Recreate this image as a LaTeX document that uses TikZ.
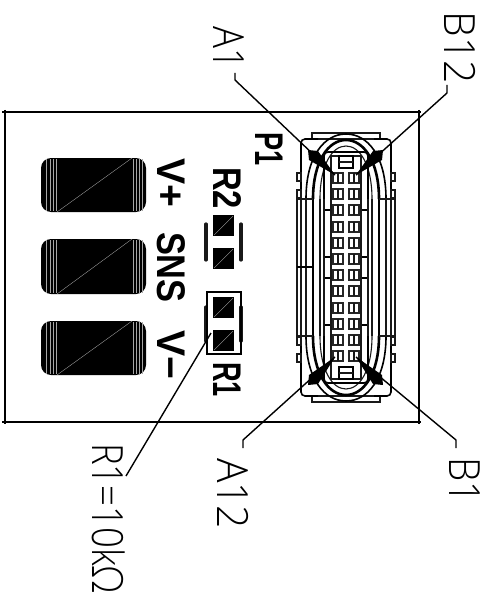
\documentclass[tikz,border=0pt]{standalone}
\usepackage{graphicx}
\usepackage{fontspec}
\setmainfont{Liberation Sans}
\newfontfamily\thinf{Open Sans Light}
\tikzset{
  thinlabel/.style={rotate=-90,anchor=base west,inner sep=0,outer sep=0,font=\thinf\fontsize{43}{43}\selectfont},
  boldlabel/.style={rotate=-90,anchor=base west,inner sep=0,outer sep=0,font=\bfseries\fontsize{40}{40}\selectfont},
  ln/.style={line width=1.1pt,black!90},
  thk/.style={line width=1.6pt,black},
  heavy/.style={line width=2.6pt,black},
  leader/.style={line width=1.4pt,black,line join=round},
  bigpad/.style={fill=black,rounded corners=10pt},
  smallpad/.style={fill=black},
  padmark/.style={line width=0.35pt,gray!70},
  silk/.style={line width=3.2pt,black!90,line cap=round},
  pinbox/.style={line width=2pt,black!85,fill=white}
}
\begin{document}
\begin{tikzpicture}[x=1pt,y=-1pt]
\useasboundingbox (0,0) rectangle (487,599);
% board
\draw[thk] (2,112) -- (421,112);
\draw[thk] (2,422) -- (421,422);
\draw[thk] (5,110) -- (5,424);
\draw[thk] (419,110) -- (419,424);
% big pads
\foreach \n/\t/\b in {a/158/212,b/239/294,c/321/375}{
  \fill[bigpad] (41,\t) rectangle (146,\b);
  \foreach \xx in {46,50,53,56,133,136,139,142}{
    \draw[padmark] (\xx,\t+1) -- (\xx,\b-1);
  }
  \draw[padmark] (57,\b) -- (132,\t);
}
% small pads
\foreach \t/\b in {215/236,248/269,297/318,330/351}{
  \fill[smallpad] (213,\t) rectangle (234,\b);
  \draw[padmark] (214,\b-1) -- (233,\t+1);
}
\draw[silk] (206,224) -- (206,260);
\draw[silk] (241,224) -- (241,260);
\draw[silk] (206,307) -- (206,341);
\draw[silk] (241,307) -- (241,341);
\draw[thk] (207,292) rectangle (241,354);
% connector
\foreach \sy/\mir in {1/0,-1/1}{
 \begin{scope}[yshift={\mir*(-535pt)},yscale=\sy]
  \draw[ln] (312,133) rectangle (380,139);
  \draw[thk,rounded corners=4pt] (301,199) -- (301,139) -- (318,139);
  \draw[thk,rounded corners=4pt] (391,199) -- (391,139) -- (374,139);
  \draw[ln] (297,173) rectangle (301,181);
  \draw[ln] (297,190) rectangle (301,198);
  \draw[ln] (391,173) rectangle (395,181);
  \draw[ln] (391,190) rectangle (395,198);
  \fill[white] (314,139.8) rectangle (378,150);
  \draw[thk] (306,199) .. controls (306,155) and (325,134) .. (346,134) .. controls (367,134) and (386,155) .. (386,199);
  \draw[heavy] (313,199) .. controls (313,162) and (328,140) .. (346,140) .. controls (364,140) and (379,162) .. (379,199);
  \draw[ln] (320,199) .. controls (320,165) and (332,146) .. (346,146) .. controls (360,146) and (372,165) .. (372,199);
  \draw[thk,rounded corners=4pt] (324,199) -- (324,152) -- (368,152) -- (368,199);
  \draw[ln] (331,199) -- (331,156) -- (361,156) -- (361,199);
  \draw[line width=1.8pt] (339,156) rectangle (353,168);
  \draw[ln] (339,162) -- (353,162);
  \draw[thk] (324,210) -- (331,210);
  \draw[thk] (361,210) -- (368,210);
  \draw[thk] (324,257) -- (331,257);
  \draw[thk] (361,257) -- (368,257);
 \end{scope}
}
% long bands
\foreach \xx in {297,301,306,320,324,331,361,368,372,386,391,395}{
  \draw[ln] (\xx,199) -- (\xx,336);
}
\draw[heavy] (313,199) -- (313,336);
\draw[heavy] (379,199) -- (379,336);
\draw[ln] (297,199) -- (313,199);
\draw[ln] (379,199) -- (395,199);
\draw[ln] (297,336) -- (313,336);
\draw[ln] (379,336) -- (395,336);
\draw[thk] (297,267) -- (313,267);
% pins
\foreach \i in {0,...,11}{
  \pgfmathsetmacro{\yy}{173+16.2*\i}
  \draw[pinbox] (333,\yy) rectangle (343,\yy+10);
  \draw[ln] (338,\yy) -- (338,\yy+10);
  \draw[pinbox] (349,\yy) rectangle (359,\yy+10);
  \draw[ln] (354,\yy) -- (354,\yy+10);
}
% leaders
\coordinate (a1end) at (235,73);
\coordinate (a1bend) at (235,80);
\coordinate (a1pin) at (335,175);
\coordinate (b12end) at (447,85);
\coordinate (b12bend) at (447,93);
\coordinate (b12pin) at (356,175);
\coordinate (a12end) at (243,448);
\coordinate (a12bend) at (243,440);
\coordinate (a12pin) at (335,357);
\coordinate (b1end) at (456,448);
\coordinate (b1bend) at (456,440);
\coordinate (b1pin) at (356,357);
\coordinate (r1end) at (126,476);
\coordinate (r1pin) at (211,333);
\draw[leader] (a1end) -- (a1bend) -- (a1pin);
\draw[leader] (b12end) -- (b12bend) -- (b12pin);
\draw[leader] (a12end) -- (a12bend) -- (a12pin);
\draw[leader] (b1end) -- (b1bend) -- (b1pin);
\draw[leader] (r1end) -- (r1pin);
% arrow wedges
\fill (a1pin) -- (318,151) -- (308,150) -- (309,160) -- cycle;
\fill (b12pin) -- (373,151) -- (383,150) -- (382,160) -- cycle;
\fill (a12pin) -- (318,384) -- (308,385) -- (309,375) -- cycle;
\fill (b1pin) -- (373,384) -- (383,385) -- (382,375) -- cycle;
% thin labels
\node[thinlabel] (la1) at (213,27) {\scalebox{0.85}[1]{A1}};
\node[thinlabel] (lb12) at (444,12) {\scalebox{0.95}[1]{B12}};
\node[thinlabel] (la12) at (217,458) {\scalebox{0.95}[1]{A12}};
\node[thinlabel] (lb1) at (449,457) {\scalebox{0.9}[1]{B1}};
\node[thinlabel] (lr1) at (92,443) {\scalebox{0.85}[1]{R1=10k\char"03A9}};
% bold labels
\node[boldlabel] (lp1) at (255,132) {\scalebox{0.68}[1]{P1}};
\node[boldlabel] (lr2) at (213,167) {\scalebox{0.82}[1]{R2}};
\node[boldlabel] (lr1b) at (213,362) {\scalebox{0.68}[1]{R1}};
\node[boldlabel] (lvp) at (157,158) {\scalebox{0.98}[1]{V+}};
\node[boldlabel] (lsns) at (157,232) {\scalebox{0.86}[1]{SNS}};
\node[boldlabel] (lvm) at (157,330) {\scalebox{0.98}[1]{V\char"2212}};
\end{tikzpicture}
\end{document}
